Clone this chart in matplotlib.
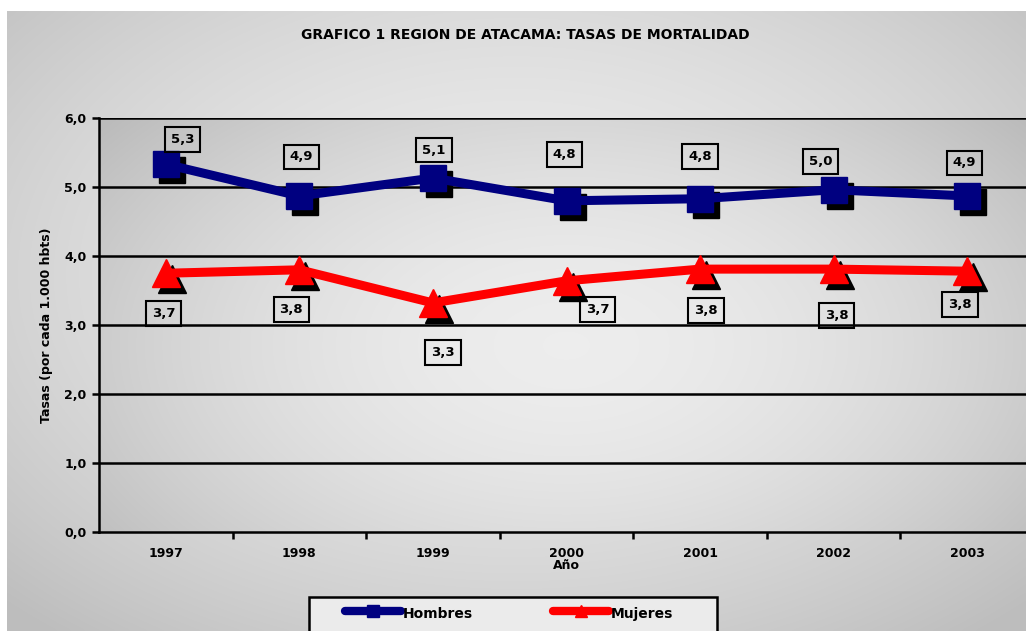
import numpy as np
import matplotlib
matplotlib.use("Agg")
import matplotlib.pyplot as plt
import matplotlib.transforms as mtransforms
from matplotlib.lines import Line2D
from matplotlib.patches import Rectangle

# data
years = ["1997", "1998", "1999", "2000", "2001", "2002", "2003"]
hombres = [5.33, 4.87, 5.13, 4.80, 4.83, 4.96, 4.87]
mujeres = [3.75, 3.80, 3.32, 3.64, 3.81, 3.81, 3.78]
hombres_lbl = ["5,3", "4,9", "5,1", "4,8", "4,8", "5,0", "4,9"]
mujeres_lbl = ["3,7", "3,8", "3,3", "3,7", "3,8", "3,8", "3,8"]
series_names = ["Hombres", "Mujeres"]

# label offsets (pixels) as placed in the original
h_off = [(17, 25), (2, 39), (1, 28), (-2, 46), (0, 42), (-13, 28), (-3, 33)]
m_off = [(-2, -40), (-8, -40), (10, -50), (31, -29), (6, -41), (3, -46), (-7, -33)]

NAVY = "#000080"
RED = "#ff0000"

W, H = 1026, 631
fig = plt.figure(figsize=(W / 100, H / 100), dpi=100)
fig.patch.set_facecolor("white")

# gray chart-area background, radial gradient
bg = fig.add_axes([7 / W, 0, 1 - 7 / W, 1 - 11 / H], zorder=0)
yy, xx = np.mgrid[-1:1:300j, -1:1:500j]
r = np.sqrt((xx * 0.85) ** 2 + ((yy + 0.15) * 0.8) ** 2)
g = 0.925 - 0.13 * np.clip(r, 0, 1.2) ** 1.8
bg.imshow(np.dstack([g, g, g]), extent=[0, 1, 0, 1], aspect="auto", interpolation="bicubic")
bg.axis("off")

ax = fig.add_axes([99 / W, 1 - 532 / H, 935 / W, 414 / H], zorder=1)
ax.patch.set_alpha(0)
# plot-area gradient
yy2, xx2 = np.mgrid[-1:1:200j, -1:1:400j]
r2 = np.sqrt((xx2 * 0.95) ** 2 + ((yy2 - 0.1) * 0.7) ** 2)
g2 = 0.93 - 0.14 * np.clip(r2, 0, 1.2) ** 1.8
ax.imshow(np.dstack([g2, g2, g2]), extent=[0, 1, 0, 1], transform=ax.transAxes,
          aspect="auto", interpolation="bicubic", zorder=0)

x = np.arange(len(years))
ax.set_xlim(-0.5, len(years) - 0.5)
ax.set_ylim(0, 6)
ax.set_aspect("auto")

for yv in range(1, 7):
    ax.axhline(yv, color="black", lw=1.8, zorder=1)

shadow = mtransforms.offset_copy(ax.transData, fig=fig, x=6, y=-6, units="dots")
ax.plot(x, hombres, ls="none", marker="s", ms=19, color="black", transform=shadow, zorder=2)
ax.plot(x, mujeres, ls="none", marker="^", ms=19.5, color="black", transform=shadow, zorder=2)
ax.plot(x, hombres, color=NAVY, lw=6.5, marker="s", ms=19, zorder=3)
ax.plot(x, mujeres, color=RED, lw=6.5, marker="^", ms=19.5, zorder=3)

box = dict(boxstyle="square,pad=0.45", fc="none", ec="black", lw=1.5)
for xi, yv, t, (dx, dy) in zip(x, hombres, hombres_lbl, h_off):
    ax.annotate(t, (xi, yv), xytext=(dx, dy), textcoords="offset pixels", ha="center",
                va="center", fontsize=9.5, fontweight="bold", bbox=box, zorder=4)
for xi, yv, t, (dx, dy) in zip(x, mujeres, mujeres_lbl, m_off):
    ax.annotate(t, (xi, yv), xytext=(dx, dy), textcoords="offset pixels", ha="center",
                va="center", fontsize=9.5, fontweight="bold", bbox=box, zorder=4)

for s in ["top", "right"]:
    ax.spines[s].set_visible(False)
for s in ["left", "bottom"]:
    ax.spines[s].set_linewidth(1.8)
ax.set_yticks(range(0, 7))
ax.set_yticklabels([f"{v},0" for v in range(0, 7)], fontsize=9, fontweight="bold")
ax.set_xticks(x)
ax.set_xticklabels(years, fontsize=9, fontweight="bold")
ax.set_xticks(x[:-1] + 0.5, minor=True)
ax.tick_params(axis="x", which="major", length=0, pad=11)
ax.tick_params(axis="x", which="minor", length=5, width=1.8, direction="out")
ax.tick_params(axis="y", length=5, width=1.8, pad=4)
ax.set_xlabel("Año", fontsize=9, fontweight="bold", labelpad=-1)
ax.set_ylabel("Tasas (por cada 1.000 hbts)", fontsize=9, fontweight="bold", labelpad=8)

fig.text(525 / W, 1 - 35 / H, "GRAFICO 1 REGION DE ATACAMA: TASAS DE MORTALIDAD",
         ha="center", va="center", fontsize=10, fontweight="bold")

# legend drawn by hand so it can sit clipped at the bottom edge like the original
def fx(px):
    return px / W

def fy(py):
    return 1 - py / H

fig.add_artist(Rectangle((fx(309), fy(645)), fx(717) - fx(309), fy(597) - fy(645),
                         transform=fig.transFigure, fc="#ebebeb", ec="black", lw=1.8, zorder=5))
for (x0, x1, tx), col, mk, name in zip([(345, 401, 403), (553, 609, 611)], [NAVY, RED],
                                       ["s", "^"], series_names):
    fig.add_artist(Line2D([fx(x0), fx(x1)], [fy(611), fy(611)], transform=fig.transFigure,
                          color=col, lw=6, solid_capstyle="round", zorder=6))
    fig.add_artist(Line2D([fx((x0 + x1) / 2)], [fy(611)], transform=fig.transFigure,
                          color=col, marker=mk, ms=8, zorder=6))
    fig.text(fx(tx), fy(614), name, ha="left", va="center", fontsize=10,
             fontweight="bold", zorder=7)

fig.savefig("out.png", dpi=100)
